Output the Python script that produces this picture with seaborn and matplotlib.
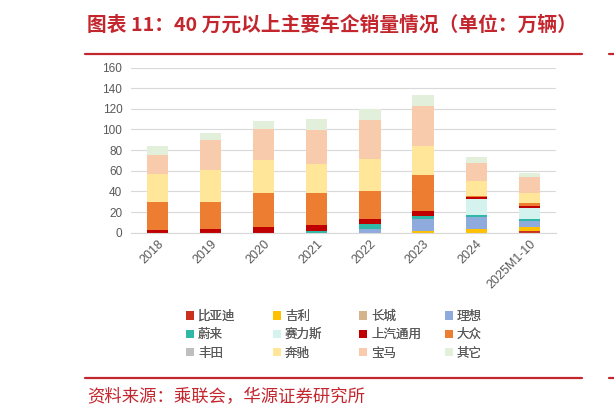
import numpy as np
import pandas as pd
import matplotlib
matplotlib.use("Agg")
import matplotlib.pyplot as plt
from matplotlib.patches import Patch
from matplotlib.lines import Line2D
import seaborn as sns

years = ["2018", "2019", "2020", "2021", "2022", "2023", "2024", "2025M1-10"]
brands = ["比亚迪", "吉利", "长城", "理想", "蔚来", "赛力斯", "上汽通用", "大众",
          "丰田", "奔驰", "宝马", "其它"]
byd      = [0, 0, 0, 0, 0, 0, 0, 2.0]
geely    = [0, 0, 0, 0, 0, 2.1, 3.9, 3.5]
gwm      = [0, 0, 0, 0, 0, 0, 0, 0]
lixiang  = [0, 0, 0, 0, 3.8, 11.3, 10.9, 5.5]
nio      = [0, 0, 0, 1.9, 4.6, 2.6, 2.0, 2.3]
seres    = [0, 0, 0, 0, 0, 0, 15.5, 10.3]
saicgm   = [2.9, 3.9, 5.8, 5.8, 4.5, 5.1, 2.0, 2.5]
vw       = [27.1, 26.1, 32.3, 30.3, 27.8, 35.2, 1.0, 2.3]
toyota   = [0, 0, 0, 0, 0, 0, 0, 0]
benz     = [27.0, 30.4, 31.9, 28.9, 30.6, 27.4, 15.0, 10.3]
bmw      = [18.5, 29.0, 30.4, 32.6, 38.1, 39.4, 17.5, 15.5]
others   = [8.0, 7.1, 8.0, 10.6, 10.0, 10.0, 5.8, 4.0]
series = [byd, geely, gwm, lixiang, nio, seres, saicgm, vw, toyota, benz, bmw, others]
colors = ["#C9301E", "#FFC000", "#D5B48C", "#8FAADC", "#2FB7A7", "#D4F2EE",
          "#C00000", "#ED7D31", "#BFBFBF", "#FFE699", "#F8CBAD", "#E2EFDA"]

RED = "#C4262E"
GREY = "#595959"
cjk = ["Noto Sans CJK SC", "DejaVu Sans"]

sns.set_theme(style="white")
plt.rcParams["font.family"] = cjk

fig = plt.figure(figsize=(6.14, 4.15), dpi=100)
ax = fig.add_axes([0.2129, 0.4393, 0.6926, 0.398])

df = pd.DataFrame({b: s for b, s in zip(brands, series)})
df["year"] = years
cum = df[brands].cumsum(axis=1)

# draw cumulative totals from top layer down so each layer shows its own slice
for b, c in reversed(list(zip(brands, colors))):
    sub = pd.DataFrame({"year": years, "val": cum[b].values})
    sns.barplot(data=sub, x="year", y="val", color=c, saturation=1,
                width=0.4, errorbar=None, linewidth=0, ax=ax, order=years)

ax.set_ylim(0, 160)
ax.set_xlim(-0.5, 7.5)
ax.set_yticks(np.arange(0, 161, 20))
ax.yaxis.grid(True, color="#D9D9D9", linewidth=0.8)
ax.set_axisbelow(True)
for s in ["top", "right", "left"]:
    ax.spines[s].set_visible(False)
ax.spines["bottom"].set_color("#D9D9D9")
ax.spines["bottom"].set_linewidth(0.8)
ax.set_xlabel("")
ax.set_ylabel("")
ax.tick_params(axis="both", length=0)
ax.tick_params(axis="y", pad=6, labelsize=8.5, labelcolor=GREY)
ax.tick_params(axis="x", pad=4, labelsize=9, labelcolor=GREY)
for lab in ax.get_yticklabels():
    lab.set_fontfamily("Liberation Sans")
for lab in ax.get_xticklabels():
    lab.set_fontfamily("Liberation Sans")
    lab.set_rotation(45)
    lab.set_ha("right")
    lab.set_rotation_mode("anchor")

# legend: 4 columns, each built from the library legend
col_x = [186, 273, 359, 445]
handles = [Patch(facecolor=c, edgecolor="none") for c in colors]
for ci in range(4):
    idx = [ci, ci + 4, ci + 8]
    leg = fig.legend([handles[i] for i in idx], [brands[i] for i in idx],
                     loc="upper left", bbox_to_anchor=(col_x[ci] / 614, 1 - 310 / 415),
                     frameon=False, ncol=1, fontsize=9, handlelength=0.65,
                     handleheight=0.65, handletextpad=0.3, labelspacing=0.42,
                     borderpad=0, borderaxespad=0)
    for t in leg.get_texts():
        t.set_color(GREY)
    fig.add_artist(leg)

# header / footer
fig.text(87 / 614, 1 - 25 / 415, "图表 11：40 万元以上主要车企销量情况（单位：万辆）",
         color=RED, fontsize=14.2, fontweight="bold", va="center", ha="left")
fig.add_artist(Line2D([85 / 614, 582 / 614], [1 - 54 / 415, 1 - 54 / 415],
                      color=RED, linewidth=1.6))
fig.add_artist(Line2D([85 / 614, 582 / 614], [1 - 378 / 415, 1 - 378 / 415],
                      color=RED, linewidth=1.6))
fig.add_artist(Line2D([609 / 614, 1], [1 - 54 / 415, 1 - 54 / 415], color=RED, linewidth=1.6))
fig.add_artist(Line2D([609 / 614, 1], [1 - 378 / 415, 1 - 378 / 415], color=RED, linewidth=1.6))
fig.text(87 / 614, 1 - 397 / 415, "资料来源：乘联会，华源证券研究所",
         color=RED, fontsize=12.5, va="center", ha="left")

fig.savefig("out.png", dpi=100)
